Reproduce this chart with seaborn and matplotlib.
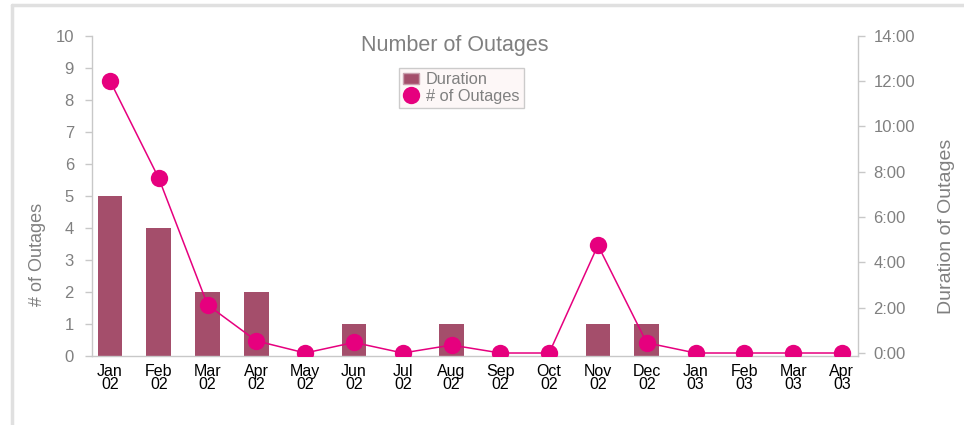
import numpy as np
import matplotlib
matplotlib.use("Agg")
import matplotlib.pyplot as plt
from matplotlib.lines import Line2D
from matplotlib.patches import Patch
from matplotlib.ticker import FuncFormatter, MultipleLocator
import seaborn as sns

# === data ===
months = ["Jan\n02", "Feb\n02", "Mar\n02", "Apr\n02", "May\n02", "Jun\n02",
          "Jul\n02", "Aug\n02", "Sep\n02", "Oct\n02", "Nov\n02", "Dec\n02",
          "Jan\n03", "Feb\n03", "Mar\n03", "Apr\n03"]
outage_counts = [5, 4, 2, 2, 0, 1, 0, 1, 0, 0, 1, 1, 0, 0, 0, 0]
durations = ["12:00", "7:42", "2:07", "0:32", "0:00", "0:28", "0:00", "0:21",
             "0:00", "0:00", "4:45", "0:27", "0:00", "0:00", "0:00", "0:00"]
duration_hours = [int(d.split(":")[0]) + int(d.split(":")[1]) / 60 for d in durations]

bar_color = "#a44e6b"
line_color = "#e6007e"
gray = "#808080"
spine_gray = "#c8c8c8"

sns.set_style("white")
plt.rcParams["font.family"] = ["Liberation Sans", "DejaVu Sans"]

fig = plt.figure(figsize=(9.64, 4.25), dpi=100)
W, H = 964, 425
ax = fig.add_axes([92 / W, 1 - 355.5 / H, (858 - 92) / W, (355.5 - 35.5) / H])

# === bars: left axis ===
sns.barplot(x=months, y=outage_counts, color=bar_color, width=0.51,
            saturation=1, linewidth=0, edgecolor="none", ax=ax)
ax.set_xlim(-0.37, 15.33)
ax.set_ylim(0, 10)
ax.yaxis.set_major_locator(MultipleLocator(1))
ax.set_ylabel("# of Outages", color=gray, fontsize=13)
ax.yaxis.set_label_coords((46 - 92) / (858 - 92), (355.5 - 254) / 320)
ax.set_xlabel("")
ax.tick_params(axis="y", colors=spine_gray, labelcolor=gray, labelsize=12,
               length=5, width=1, direction="out", left=True, pad=8)
ax.tick_params(axis="x", length=0, labelsize=11.5, labelcolor="black", pad=6)
for lab in ax.get_xticklabels():
    lab.set_linespacing(0.85)
for side in ["top", "right"]:
    ax.spines[side].set_visible(False)
for side in ["left", "bottom"]:
    ax.spines[side].set_color(spine_gray)
    ax.spines[side].set_linewidth(1)

# === line: right axis ===
ax2 = ax.twinx()
sns.lineplot(x=months, y=duration_hours, sort=False, color=line_color,
             linewidth=1.1, marker="o", markersize=12.5, markeredgewidth=0,
             ax=ax2, zorder=5)
ax2.set_ylim(-0.11, 14.0)
ax2.yaxis.set_major_locator(MultipleLocator(2))
ax2.yaxis.set_major_formatter(FuncFormatter(lambda v, p: f"{int(round(v))}:00"))
ax2.set_ylabel("Duration of Outages", color=gray, fontsize=14)
ax2.yaxis.set_label_coords((938 - 92) / (858 - 92), (355.5 - 226) / 320)
ax2.tick_params(axis="y", colors=spine_gray, labelcolor=gray, labelsize=12,
                length=5, width=1, direction="out", right=True, pad=6)
for side in ["top", "left", "bottom"]:
    ax2.spines[side].set_visible(False)
ax2.spines["right"].set_color(spine_gray)
ax2.spines["right"].set_linewidth(1)
ax2.set_xlim(-0.37, 15.33)

# === title and legend ===
fig.text(455 / W, 1 - 45 / H, "Number of Outages", ha="center", va="center",
         color=gray, fontsize=15.5)
handles = [Patch(facecolor=bar_color, edgecolor="#c9a0ae", label="Duration"),
           Line2D([], [], color=line_color, marker="o", linestyle="none",
                  markersize=12.5, markeredgewidth=0, label="# of Outages")]
leg = fig.legend(handles=handles, loc="upper left",
                 bbox_to_anchor=(399 / W, 1 - 68 / H), fontsize=11.75,
                 frameon=True, fancybox=False, handlelength=1.0,
                 handletextpad=0.4, borderpad=0.25, labelspacing=0.1,
                 borderaxespad=0)
leg.get_frame().set_facecolor("#fdf6f6")
leg.get_frame().set_edgecolor("#c0c0c0")
leg.get_frame().set_linewidth(1)
for t in leg.get_texts():
    t.set_color(gray)

# === outer frame (top and left edges) ===
fig.add_artist(Line2D([12 / W, 12 / W], [0, 1 - 5 / H], color="#e0e0e0",
                      linewidth=2.5, transform=fig.transFigure))
fig.add_artist(Line2D([12 / W, 1], [1 - 5 / H, 1 - 5 / H], color="#e0e0e0",
                      linewidth=2.5, transform=fig.transFigure))

fig.savefig("out.png", dpi=100)
plt.close(fig)
